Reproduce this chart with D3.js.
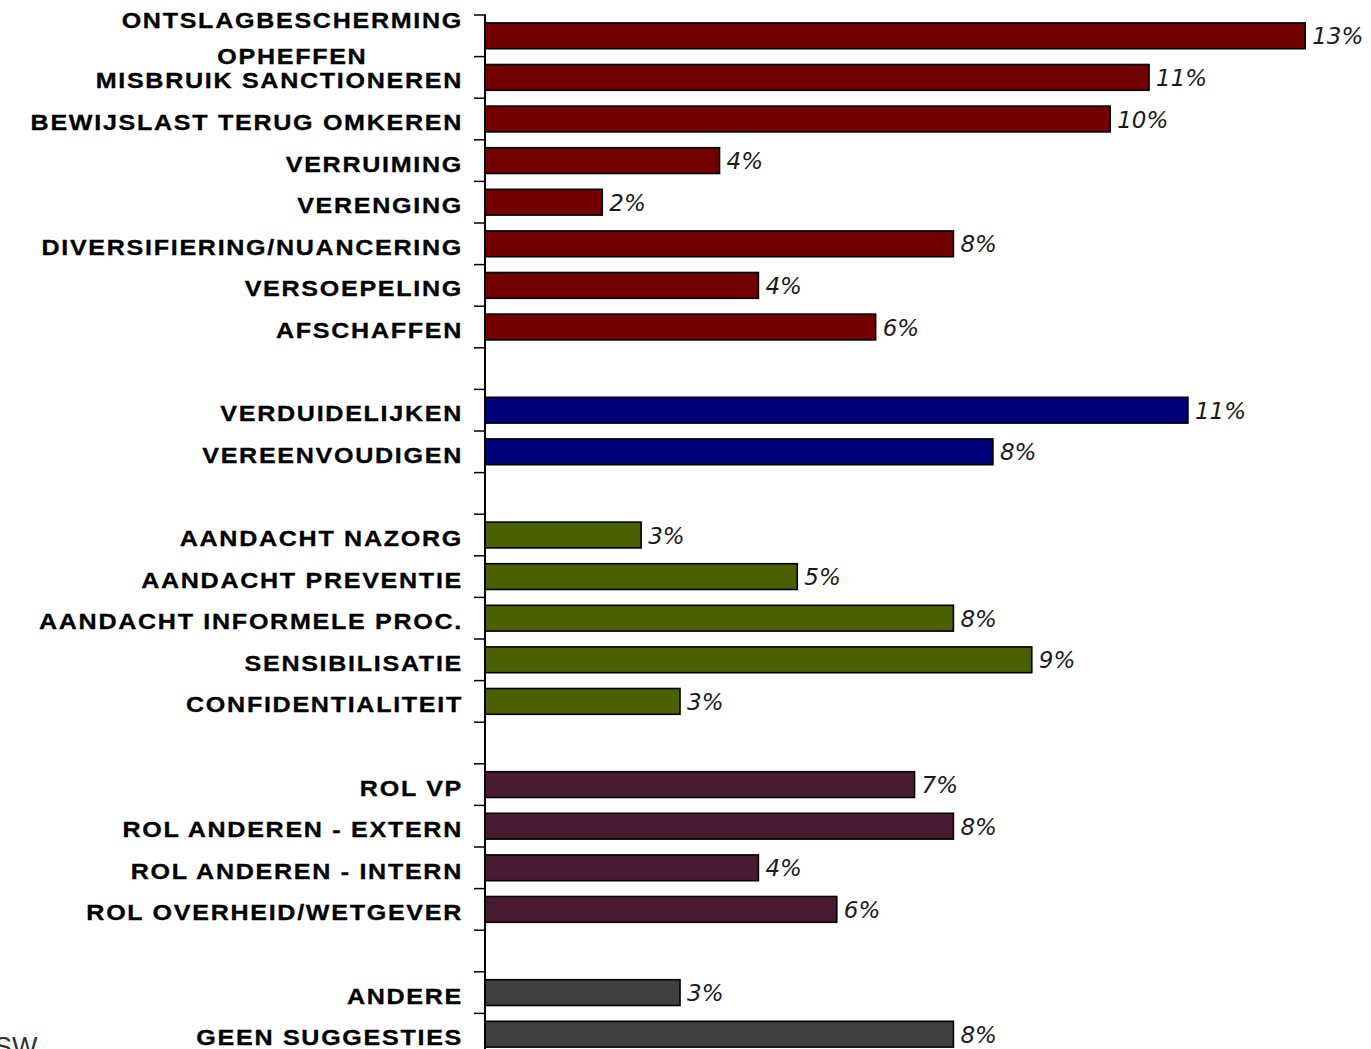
<!DOCTYPE html>
<html>
<head>
<meta charset="utf-8">
<script src="https://cdn.jsdelivr.net/npm/d3@7"></script>
<style>
  html, body { margin: 0; padding: 0; background: #ffffff; overflow: hidden; }
  svg { display: block; }
</style>
</head>
<body>
<svg id="chart" width="1371" height="1049"></svg>
<script>
// Suggestions, grouped by theme (percent of respondents)
const categories = [
  "ONTSLAGBESCHERMING\nOPHEFFEN",
  "MISBRUIK SANCTIONEREN",
  "BEWIJSLAST TERUG OMKEREN",
  "VERRUIMING",
  "VERENGING",
  "DIVERSIFIERING/NUANCERING",
  "VERSOEPELING",
  "AFSCHAFFEN",
  "VERDUIDELIJKEN",
  "VEREENVOUDIGEN",
  "AANDACHT NAZORG",
  "AANDACHT PREVENTIE",
  "AANDACHT INFORMELE PROC.",
  "SENSIBILISATIE",
  "CONFIDENTIALITEIT",
  "ROL VP",
  "ROL ANDEREN - EXTERN",
  "ROL ANDEREN - INTERN",
  "ROL OVERHEID/WETGEVER",
  "ANDERE",
  "GEEN SUGGESTIES"
];
const values = [
  13.29, 10.76, 10.13, 3.80, 1.90, 7.59, 4.43, 6.33,
  11.39, 8.23,
  2.53, 5.06, 7.59, 8.86, 3.16,
  6.96, 7.59, 4.43, 5.70,
  3.16, 7.59
];
// theme index of each suggestion
const groupIndex = [
  0, 0, 0, 0, 0, 0, 0, 0,
  1, 1,
  2, 2, 2, 2, 2,
  3, 3, 3, 3,
  4, 4
];
const groupColors = ["#730000", "#000078", "#4b6000", "#4a1a32", "#404040"];
const xDomain = [0, 14];
const footnote = "SW";

// Build rows, leaving an empty row between themes
const rows = [];
categories.forEach((c, i) => {
  if (i > 0 && groupIndex[i] !== groupIndex[i - 1]) {
    rows.push({ key: "gap" + i, label: null });
  }
  rows.push({ key: "row" + i, label: c, value: values[i], group: groupIndex[i] });
});

const svg = d3.select("#chart");
const axisX = 485;

const y = d3.scaleBand()
  .domain(rows.map(r => r.key))
  .range([15, 1055])
  .paddingInner(0.38)
  .paddingOuter(0.19);

const x = d3.scaleLinear().domain(xDomain).range([axisX, 1349]);

const step = y.step();
const bars = rows.filter(r => r.label !== null);

// Bars
svg.append("g").selectAll("rect")
  .data(bars)
  .join("rect")
  .attr("x", x(0))
  .attr("y", d => y(d.key))
  .attr("width", d => x(d.value) - x(0))
  .attr("height", y.bandwidth())
  .attr("fill", d => groupColors[d.group])
  .attr("stroke", "#000")
  .attr("stroke-width", 1.6);

// Category axis: vertical line with ticks at row boundaries
const axisG = svg.append("g");
const boundaries = d3.range(rows.length + 1).map(i => y.range()[0] + i * step);
axisG.selectAll("line.tick")
  .data(boundaries)
  .join("line")
  .attr("class", "tick")
  .attr("x1", axisX - 11).attr("x2", axisX)
  .attr("y1", d => d).attr("y2", d => d)
  .attr("stroke", "#000").attr("stroke-width", 1.5);
axisG.append("line")
  .attr("x1", axisX).attr("x2", axisX)
  .attr("y1", y.range()[0] - 0.75).attr("y2", y.range()[1])
  .attr("stroke", "#000").attr("stroke-width", 2);

// Category labels (right aligned, multi-line labels centred on their block)
const labelScale = 1.14;
const labelG = svg.append("g")
  .attr("font-family", "'Liberation Sans', Arial, sans-serif")
  .attr("font-weight", "bold")
  .attr("font-size", 22)
  .attr("letter-spacing", "1.5px")
  .attr("fill", "#000")
  .attr("stroke", "#000")
  .attr("stroke-width", 0.3);

bars.forEach(d => {
  const cy = y(d.key) + y.bandwidth() / 2;
  const lines = d.label.split("\n");
  const g = labelG.append("g")
    .attr("transform", `translate(${axisX - 22},${cy}) scale(${labelScale},1)`);
  if (lines.length === 1) {
    g.append("text")
      .attr("text-anchor", "end")
      .attr("y", 11)
      .text(lines[0]);
  } else {
    const texts = lines.map(l => g.append("text").attr("text-anchor", "middle").text(l));
    const w = d3.max(texts, t => t.node().getComputedTextLength());
    const lineGap = 36.5;
    const first = 11 + 2 - (lines.length - 1) * lineGap / 2 - 3;
    texts.forEach((t, i) => t.attr("x", -w / 2).attr("y", first + i * lineGap));
  }
});

// Value labels
svg.append("g")
  .attr("font-family", "'DejaVu Sans', Verdana, sans-serif")
  .attr("font-style", "italic")
  .attr("font-size", 23)
  .attr("fill", "#1a1a1a")
  .selectAll("text")
  .data(bars)
  .join("text")
  .attr("x", d => x(d.value) + 7)
  .attr("y", d => y(d.key) + y.bandwidth() / 2 + 8.5)
  .text(d => Math.round(d.value) + "%");

// Footnote, partly cut by the bottom edge
svg.append("text")
  .attr("x", -6)
  .attr("y", 1056)
  .attr("font-family", "'Liberation Sans', Arial, sans-serif")
  .attr("font-size", 27)
  .attr("fill", "#333")
  .text(footnote);
</script>
</body>
</html>
